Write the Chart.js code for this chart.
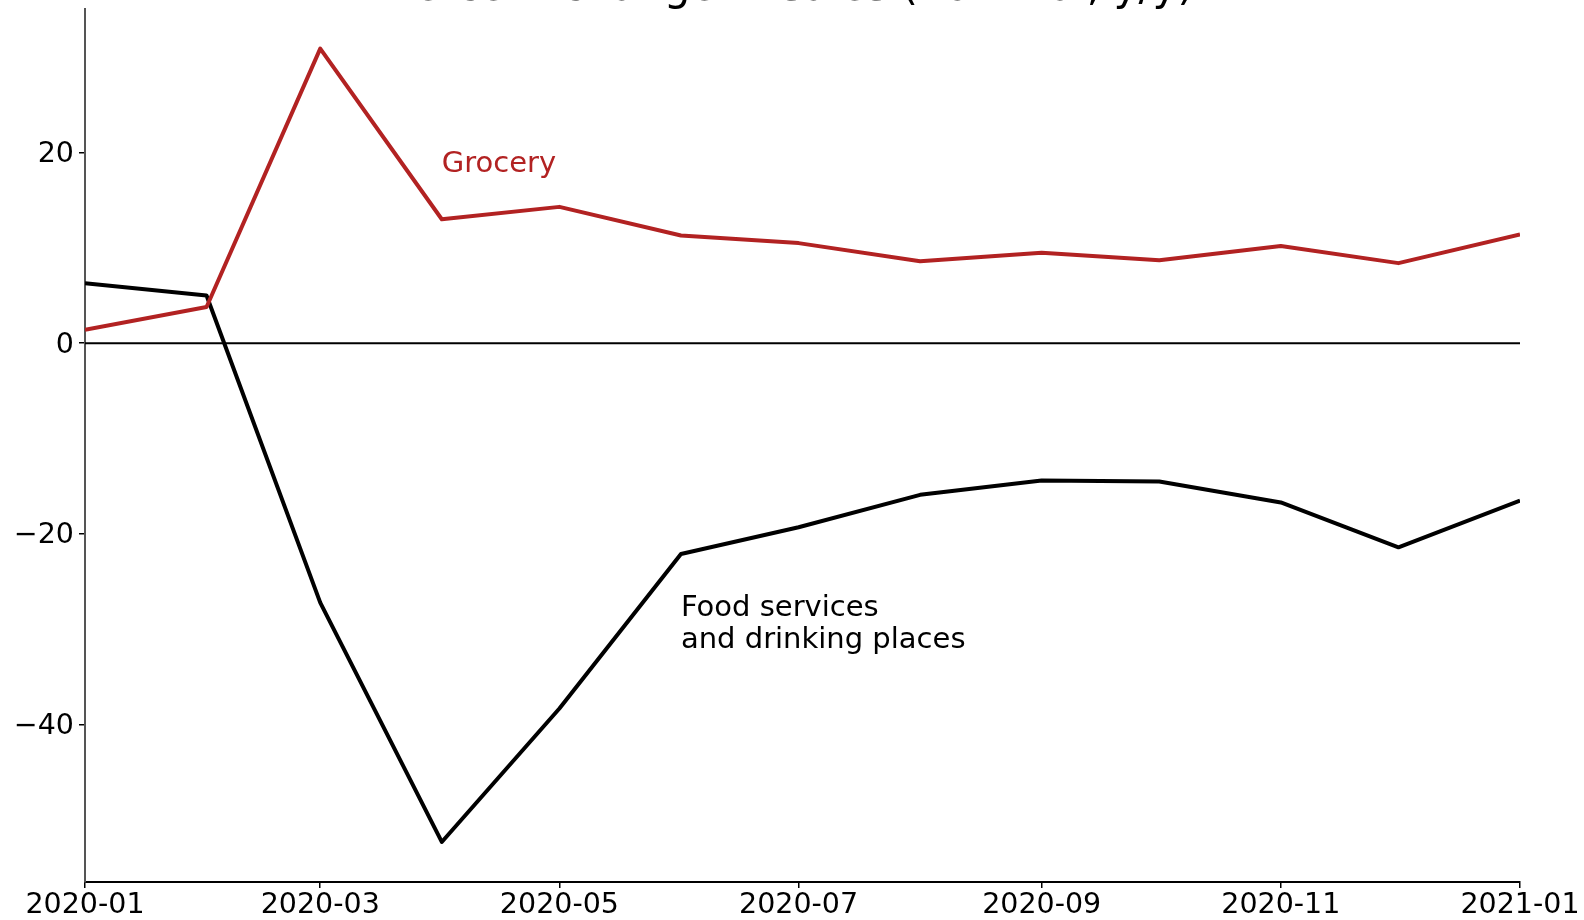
<!DOCTYPE html>
<html>
<head>
<meta charset="utf-8">
<title>Percent change in sales (nominal, y/y)</title>
<script src="https://cdn.jsdelivr.net/npm/chart.js@4.4.1/dist/chart.umd.min.js"></script>
<style>
    html, body { margin: 0; padding: 0; background: #fff; }
    #wrap { position: relative; width: 1584px; height: 920px; }
</style>
</head>
<body>
<div id="wrap"><canvas id="salesChart"></canvas></div>
<script>
// Data
const chartTitle = 'Percent change in sales (nominal, y/y)';
const months = ['2020-01', '2020-02', '2020-03', '2020-04', '2020-05', '2020-06', '2020-07',
                '2020-08', '2020-09', '2020-10', '2020-11', '2020-12', '2021-01'];
const grocery = [1.4, 3.8, 30.9, 13.0, 14.3, 11.3, 10.5, 8.6, 9.5, 8.7, 10.2, 8.4, 11.4];
const foodServices = [6.3, 5.0, -27.2, -52.3, -38.3, -22.1, -19.3, -15.9, -14.4, -14.5, -16.7, -21.4, -16.5];
const xTickLabels = ['2020-01', '2020-03', '2020-05', '2020-07', '2020-09', '2020-11', '2021-01'];
const yTickValues = [-40, -20, 0, 20];
const groceryLabel = ['Grocery'];
const foodLabel = ['Food services', 'and drinking places'];

const RED = '#b22222';
const FONT = '"DejaVu Sans", sans-serif';

// month string -> days since 2020-01-01 (matplotlib date axis is proportional to time)
const origin = Date.UTC(2020, 0, 1);
function toDays(m) {
    const [y, mo] = m.split('-').map(Number);
    return (Date.UTC(y, mo - 1, 1) - origin) / 86400000;
}
const dayLabel = {};
xTickLabels.forEach(m => { dayLabel[toDays(m)] = m; });

const xMin = toDays(months[0]);
const xMax = toDays(months[months.length - 1]);

function points(values) {
    return values.map((v, i) => ({ x: toDays(months[i]), y: v }));
}

// Title (cut off at the top, as in the reference) and text annotations
const textPlugin = {
    id: 'texts',
    afterDraw(chart) {
        const ctx = chart.ctx;
        const xs = chart.scales.x, ys = chart.scales.y;
        ctx.save();
        ctx.textBaseline = 'alphabetic';

        ctx.font = '42px ' + FONT;
        ctx.fillStyle = '#000';
        ctx.textAlign = 'center';
        ctx.fillText(chartTitle, 792, 0);

        ctx.font = '29px ' + FONT;
        ctx.textAlign = 'left';
        ctx.fillStyle = RED;
        groceryLabel.forEach((t, i) => {
            ctx.fillText(t, xs.getPixelForValue(toDays('2020-04')), ys.getPixelForValue(18) + i * 33);
        });
        ctx.fillStyle = '#000';
        foodLabel.forEach((t, i) => {
            ctx.fillText(t, xs.getPixelForValue(toDays('2020-06')), ys.getPixelForValue(-28.6) + i * 32.5);
        });
        ctx.restore();
    }
};

new Chart(document.getElementById('salesChart'), {
    type: 'line',
    data: {
        datasets: [
            {
                label: 'Grocery',
                data: points(grocery),
                borderColor: RED,
                borderWidth: 4,
                pointRadius: 0,
                tension: 0,
                borderJoinStyle: 'round',
                order: 0
            },
            {
                label: 'Food services and drinking places',
                data: points(foodServices),
                borderColor: '#000',
                borderWidth: 4,
                pointRadius: 0,
                tension: 0,
                borderJoinStyle: 'round',
                order: 1
            },
            {
                label: 'zero',
                data: [{ x: xMin, y: 0 }, { x: xMax, y: 0 }],
                borderColor: '#000',
                borderWidth: 2.2,
                pointRadius: 0,
                order: 2
            }
        ]
    },
    options: {
        responsive: true,
        maintainAspectRatio: false,
        animation: false,
        events: [],
        layout: { padding: { top: 9, right: 64, left: 0, bottom: 0 } },
        plugins: {
            legend: { display: false },
            tooltip: { enabled: false },
            title: { display: false }
        },
        scales: {
            x: {
                type: 'linear',
                min: xMin,
                max: xMax,
                border: { display: true, color: '#000', width: 2 },
                grid: { drawOnChartArea: false, drawTicks: true, tickLength: 6, color: '#000', lineWidth: 1.5 },
                afterBuildTicks: (scale) => {
                    scale.ticks = xTickLabels.map(m => ({ value: toDays(m) }));
                },
                afterFit: (scale) => {
                    scale.height = 38;
                    scale.paddingLeft = 0;
                    scale.paddingRight = 0;
                },
                ticks: {
                    color: '#000',
                    font: { family: FONT, size: 28.5 },
                    padding: 0,
                    maxRotation: 0,
                    autoSkip: false,
                    callback: (v) => dayLabel[v] || ''
                }
            },
            y: {
                min: -56.5,
                max: 35.05,
                border: { display: true, color: '#555', width: 2 },
                grid: { drawOnChartArea: false, drawTicks: true, tickLength: 6, color: '#000', lineWidth: 1.5 },
                afterBuildTicks: (scale) => {
                    scale.ticks = yTickValues.map(v => ({ value: v }));
                },
                afterFit: (scale) => {
                    scale.width = 85;
                    scale.paddingTop = 0;
                    scale.paddingBottom = 0;
                },
                ticks: {
                    color: '#000',
                    font: { family: FONT, size: 28.5 },
                    padding: 5,
                    labelOffset: 2,
                    callback: (v) => String(v).replace('-', '\u2212')
                }
            }
        }
    },
    plugins: [textPlugin]
});
</script>
</body>
</html>
